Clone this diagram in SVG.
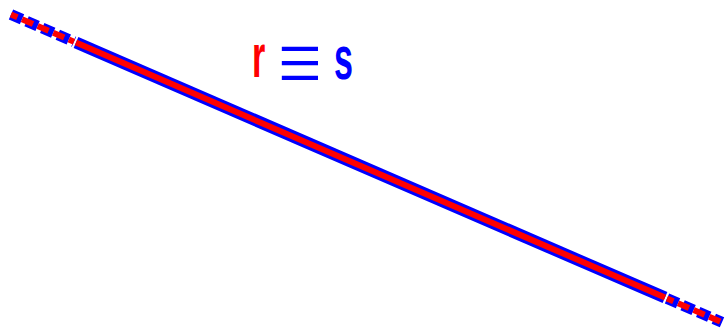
<svg xmlns="http://www.w3.org/2000/svg" width="727" height="333" viewBox="0 0 727 333">
<style>
.b{stroke:#0000ff;stroke-width:12;fill:none}
.r{stroke:#ff0000;stroke-width:6;fill:none}
.bd{stroke:#0000ff;stroke-width:11;fill:none;stroke-dasharray:12 5}
.rd{stroke:#ff0000;stroke-width:6;fill:none;stroke-dasharray:12 5;stroke-dashoffset:5}
.t{font-family:"Liberation Sans",Arial,sans-serif;font-size:62px;font-weight:bold}
</style>
<g id="lines">
<line class="b" x1="76" y1="42.6" x2="665" y2="297.6"/>
<line class="r" x1="76" y1="42.6" x2="665" y2="297.6"/>
<line class="bd" x1="11" y1="14.5" x2="74" y2="41.8"/>
<line class="rd" x1="11" y1="14.5" x2="74" y2="41.8"/>
<line class="bd" x1="667" y1="298.5" x2="722" y2="322.3"/>
<line class="rd" x1="667" y1="298.5" x2="722" y2="322.3"/>
</g>
<g id="label">
<text class="t" fill="#ff0000" transform="translate(252,77) scale(0.55,1)">r</text>
<text fill="#0000ff" style="font-family:'Noto Sans CJK SC',sans-serif;font-size:66px" transform="translate(275,88.3) scale(0.755,1)">≡</text>
<text class="t" fill="#0000ff" transform="translate(334,79) scale(0.55,1)">s</text>
</g>
</svg>
